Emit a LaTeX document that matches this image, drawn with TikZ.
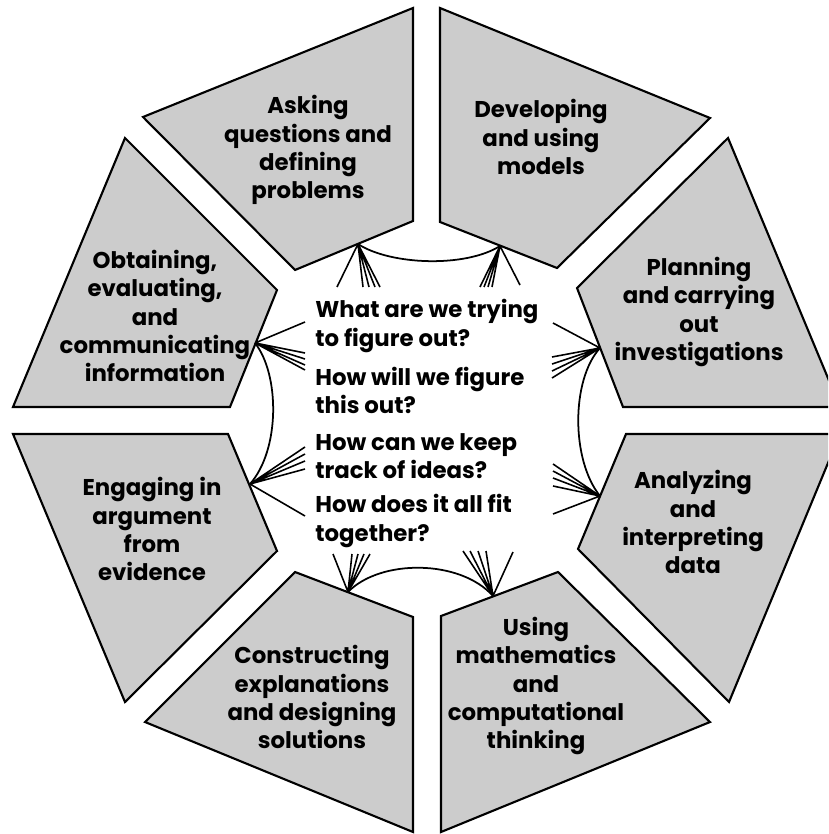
\documentclass[tikz,border=0pt]{standalone}
\usepackage{fontspec}
\setmainfont{Poppins}

\begin{document}
\begin{tikzpicture}[
    x=0.02cm, y=-0.02cm,
    piece/.style={draw, fill=black!20, line width=1.2pt, line join=miter},
    lbl/.style={font=\fontsize{13}{16}\selectfont\bfseries, align=center, inner sep=0pt},
    qst/.style={font=\fontsize{13}{16}\selectfont\bfseries, align=left, anchor=west, inner sep=0pt},
    rim/.style={line width=1pt},
    fan/.style={line width=0.9pt}
]
\clip (0,0) rectangle (828,834);

% the eight practices
\draw[piece] (143,117) -- (413,8) -- (413,221) -- (295,270) -- cycle;
\draw[piece] (440,8) -- (710,118) -- (557,268) -- (440,222) -- cycle;
\draw[piece] (728,138) -- (840,407) -- (623,407) -- (577,288) -- cycle;
\draw[piece] (626,434) -- (840,434) -- (729,702) -- (578,549) -- cycle;
\draw[piece] (441,616) -- (558,572) -- (710,722) -- (441,832) -- cycle;
\draw[piece] (295,572) -- (413,617) -- (413,832) -- (145,722) -- cycle;
\draw[piece] (13,434) -- (228,434) -- (277,551) -- (125,702) -- cycle;
\draw[piece] (125,138) -- (277,290) -- (230,407) -- (13,407) -- cycle;

\node[lbl] (ask) at (308,150) {Asking\\questions and\\defining\\problems};
\node[lbl] (model) at (541,137) {Developing\\and using\\models};
\node[lbl] (plan) at (699,312) {Planning\\and carrying\\out\\investigations};
\node[lbl] (analyze) at (693,522) {Analyzing\\and\\interpreting\\data};
\node[lbl] (math) at (536,686) {Using\\mathematics\\and\\computational\\thinking};
\node[lbl] (explain) at (312,697) {Constructing\\explanations\\and designing\\solutions};
\node[lbl] (argue) at (152,529) {Engaging in\\argument\\from\\evidence};
\node[lbl] (inform) at (155,316) {Obtaining,\\evaluating,\\and\\communicating\\information};

% questions in the middle
\node[qst] (q1) at (315,326) {What are we trying\\to figure out?};
\node[qst] (q2) at (315,390) {How will we figure\\this out?};
\node[qst] (q3) at (315,456) {How can we keep\\track of ideas?};
\node[qst] (q4) at (315,521) {How does it all fit\\together?};

\coordinate (ask-in) at (358,244);
\coordinate (model-in) at (500,246);
\coordinate (plan-in) at (600,348);
\coordinate (analyze-in) at (600,496);
\coordinate (math-in) at (493,596);
\coordinate (explain-in) at (348,592);
\coordinate (argue-in) at (250,484);
\coordinate (inform-in) at (255,343);

\draw[rim] (ask-in) .. controls (390,265) and (465,268) .. (model-in);
\draw[rim] (plan-in) .. controls (571,380) and (571,460) .. (analyze-in);
\draw[rim] (explain-in) .. controls (380,559) and (460,559) .. (math-in);
\draw[rim] (inform-in) .. controls (280,375) and (280,450) .. (argue-in);

\draw[fan] (ask-in) -- ++(-21,43)
    (ask-in) -- ++(5,43) (ask-in) -- ++(11,43) (ask-in) -- ++(17,43) (ask-in) -- ++(22,43);
\draw[fan] (model-in) -- ++(20,39)
    (model-in) -- ++(-20,41) (model-in) -- ++(-16,41) (model-in) -- ++(-12,41) (model-in) -- ++(-8,41);
\draw[fan] (plan-in) -- ++(-47,-25)
    (plan-in) -- ++(-48,9) (plan-in) -- ++(-48,16) (plan-in) -- ++(-48,23) (plan-in) -- ++(-48,30);
\draw[fan] (analyze-in) -- ++(-47,18)
    (analyze-in) -- ++(-47,-32) (analyze-in) -- ++(-47,-25) (analyze-in) -- ++(-47,-18) (analyze-in) -- ++(-47,-10);
\draw[fan] (math-in) -- ++(20,-44)
    (math-in) -- ++(-30,-45) (math-in) -- ++(-23,-45) (math-in) -- ++(-15,-45) (math-in) -- ++(-7,-45);
\draw[fan] (explain-in) -- ++(-15,-38)
    (explain-in) -- ++(4,-38) (explain-in) -- ++(10,-38) (explain-in) -- ++(16,-38) (explain-in) -- ++(22,-38);
\draw[fan] (argue-in) -- ++(55,32)
    (argue-in) -- ++(55,-37) (argue-in) -- ++(55,-30) (argue-in) -- ++(55,-23) (argue-in) -- ++(55,-15);
\draw[fan] (inform-in) -- ++(50,-21)
    (inform-in) -- ++(50,10) (inform-in) -- ++(50,16) (inform-in) -- ++(50,22) (inform-in) -- ++(50,27);
\end{tikzpicture}
\end{document}
